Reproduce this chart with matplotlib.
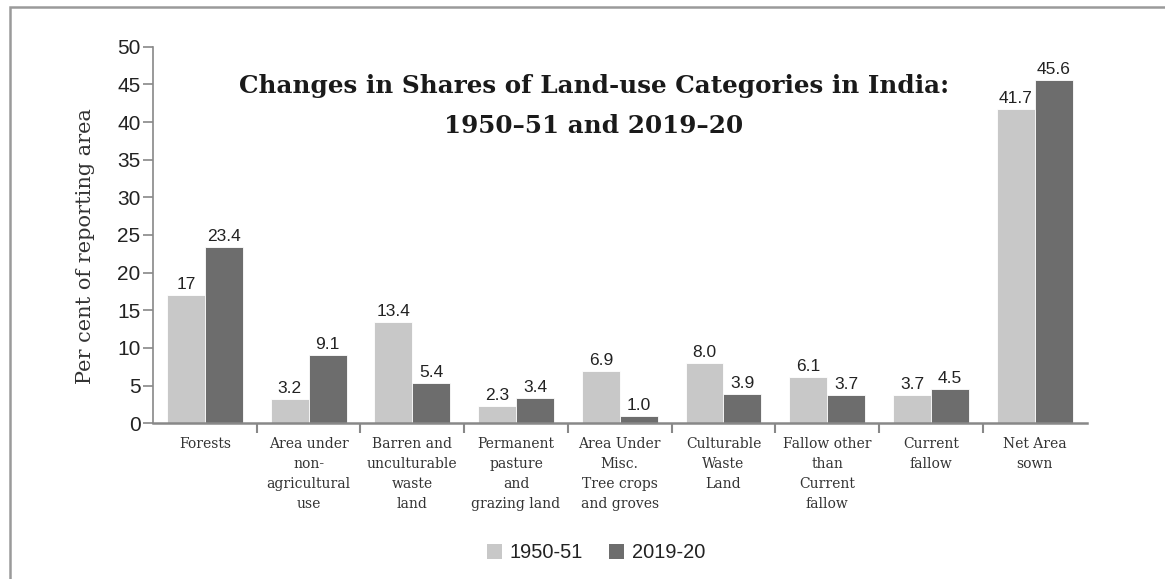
import matplotlib
matplotlib.use("Agg")
import matplotlib.pyplot as plt
from matplotlib.patches import Rectangle, Patch
import numpy as np

categories = ["Forests", "Area under\nnon-\nagricultural\nuse", "Barren and\nunculturable\nwaste\nland",
              "Permanent\npasture\nand\ngrazing land", "Area Under\nMisc.\nTree crops\nand groves",
              "Culturable\nWaste\nLand", "Fallow other\nthan\nCurrent\nfallow", "Current\nfallow",
              "Net Area\nsown"]
v1950 = [17, 3.2, 13.4, 2.3, 6.9, 8.0, 6.1, 3.7, 41.7]
v2019 = [23.4, 9.1, 5.4, 3.4, 1.0, 3.9, 3.7, 4.5, 45.6]
lab1950 = ["17", "3.2", "13.4", "2.3", "6.9", "8.0", "6.1", "3.7", "41.7"]
lab2019 = ["23.4", "9.1", "5.4", "3.4", "1.0", "3.9", "3.7", "4.5", "45.6"]
series_names = ["1950-51", "2019-20"]
title = "Changes in Shares of Land-use Categories in India:\n1950\u201351 and 2019\u201320"
ylabel = "Per cent of reporting area"

C1, C2 = "#c8c8c8", "#6d6d6d"
SANS = "Liberation Sans"
SERIF = "DejaVu Serif"

W, H = 1165, 579
fig = plt.figure(figsize=(W / 100, H / 100), dpi=100)
fig.patch.set_facecolor("white")

# outer frame
fig.add_artist(Rectangle((10 / W, -0.05), 1.2, 1 - 7 / H + 0.05, transform=fig.transFigure,
                         fill=False, edgecolor="#9a9a9a", linewidth=1.8))

ax = fig.add_axes([153 / W, 1 - 423.3 / H, (1086.5 - 153) / W, (423.3 - 46.7) / H])
x = np.arange(len(categories))
bw = 0.366
b1 = ax.bar(x - bw / 2, v1950, bw, color=C1, edgecolor="white", linewidth=0.6)
b2 = ax.bar(x + bw / 2, v2019, bw, color=C2, edgecolor="white", linewidth=0.6)
for rect, s in zip(b1, lab1950):
    ax.text(rect.get_x() + rect.get_width() / 2, rect.get_height() + 0.4, s, ha="center", va="bottom",
            fontsize=12.5, family=SANS, color="#222222")
for rect, s in zip(b2, lab2019):
    ax.text(rect.get_x() + rect.get_width() / 2, rect.get_height() + 0.4, s, ha="center", va="bottom",
            fontsize=12.5, family=SANS, color="#222222")

ax.set_xlim(-0.5, len(categories) - 0.5)
ax.set_ylim(0, 50)
ax.set_yticks(np.arange(0, 51, 5))
ax.tick_params(axis="y", labelsize=15, length=7, width=1.2, color="#888888", pad=2, labelcolor="#222222")
for t in ax.get_yticklabels():
    t.set_family(SANS)
ax.set_xticks(x)
ax.set_xticklabels(categories, family=SERIF, fontsize=10, color="#333333", linespacing=1.55, va="top")
ax.tick_params(axis="x", length=0, pad=10)
# category boundary ticks
ax.set_xticks(np.arange(0.5, len(categories) - 1, 1), minor=True)
ax.tick_params(axis="x", which="minor", length=7, width=1.5, color="#888888", direction="out")
for s in ["top", "right"]:
    ax.spines[s].set_visible(False)
ax.spines["left"].set_color("#888888")
ax.spines["left"].set_linewidth(1.2)
ax.spines["bottom"].set_color("#888888")
ax.spines["bottom"].set_linewidth(1.8)
ax.set_ylabel(ylabel, family=SERIF, fontsize=15, color="#333333", labelpad=7)
ax.yaxis.set_label_coords(-58 / (1086.5 - 153), 0.47)

fig.text(594 / W, 1 - 106 / H, title, ha="center", va="center", family=SERIF, fontweight="bold",
         fontsize=17.7, linespacing=1.8, color="#1a1a1a")

handles = [Patch(facecolor=C1, label=series_names[0]), Patch(facecolor=C2, label=series_names[1])]
leg = fig.legend(handles=handles, loc="center", bbox_to_anchor=(596 / W, 1 - 553 / H), ncol=2,
                 frameon=False, prop={"family": SANS, "size": 14.4}, handlelength=0.75, handleheight=0.75,
                 handletextpad=0.4, columnspacing=1.3)
for t in leg.get_texts():
    t.set_color("#222222")

fig.savefig("out.png", dpi=100, facecolor="white")
